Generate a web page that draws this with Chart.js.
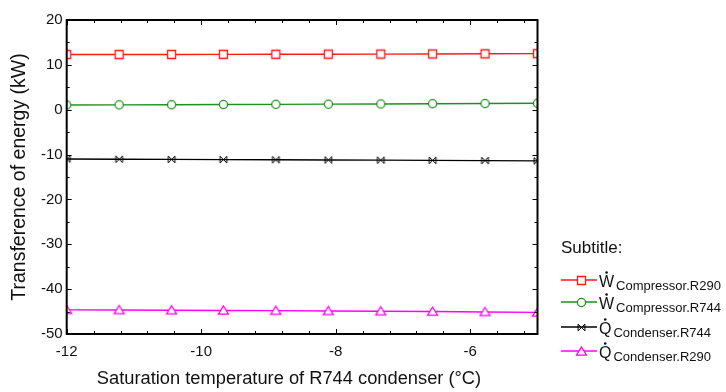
<!DOCTYPE html>
<html>
<head>
<meta charset="utf-8">
<script src="https://cdn.jsdelivr.net/npm/chart.js@4.4.1/dist/chart.umd.min.js"></script>
<style>
  html, body { margin: 0; padding: 0; background: #fff; }
  #wrap { width: 726px; height: 392px; position: relative; }
</style>
</head>
<body>
<div id="wrap"><canvas id="c"></canvas></div>
<script>
// Saturation temperature of the R744 condenser (°C)
const satTemp = [-12, -11.22, -10.44, -9.67, -8.89, -8.11, -7.33, -6.56, -5.78, -5];

// Energy transfer per component (kW)
const wCompressorR290 = [12.3, 12.3, 12.32, 12.34, 12.36, 12.38, 12.4, 12.43, 12.46, 12.5];
const wCompressorR744 = [1.05, 1.08, 1.12, 1.16, 1.2, 1.24, 1.28, 1.33, 1.38, 1.43];
const qCondenserR744 = [-11.0, -11.04, -11.08, -11.12, -11.16, -11.2, -11.24, -11.29, -11.34, -11.4];
const qCondenserR290 = [-44.62, -44.66, -44.7, -44.75, -44.8, -44.86, -44.92, -45.0, -45.08, -45.18];

// Axis ticks (minor + major) and the ones that carry a label
const xTickValues = [-12, -11.6, -11.2, -10.8, -10.4, -10, -9.6, -9.2, -8.8, -8.4, -8, -7.6, -7.2, -6.8, -6.4, -6, -5.6, -5.2];
const xTickLabels = [-12, -10, -8, -6];
const yTickValues = [-50, -45, -40, -35, -30, -25, -20, -15, -10, -5, 0, 5, 10, 15, 20];
const yTickLabels = [-50, -40, -30, -20, -10, 0, 10, 20];

// Legend entries
const legendTitle = 'Subtitle:';
const seriesSymbol = ['W', 'W', 'Q', 'Q'];
const seriesSubscript = ['Compressor.R290', 'Compressor.R744', 'Condenser.R744', 'Condenser.R290'];

const FONT = 'Arial, "Liberation Sans", sans-serif';
const INK = '#111';

function isIn(list, v) { return list.some(t => Math.abs(t - v) < 1e-6); }

// Marker glyphs rendered once into small canvases
function makeMarker(kind, color) {
  const s = 13, c = document.createElement('canvas');
  c.width = s; c.height = s;
  const g = c.getContext('2d');
  const m = s / 2;
  g.strokeStyle = color; g.fillStyle = '#fff'; g.lineWidth = 1.3;
  g.beginPath();
  if (kind === 'square') {
    g.rect(m - 4, m - 4, 8, 8);
    g.fill(); g.stroke();
  } else if (kind === 'circle') {
    g.arc(m, m, 4.1, 0, Math.PI * 2);
    g.fill(); g.stroke();
  } else if (kind === 'triangle') {
    g.moveTo(m, m - 4.5); g.lineTo(m + 5, m + 3.6); g.lineTo(m - 5, m + 3.6); g.closePath();
    g.fill(); g.stroke();
  } else if (kind === 'bowtie') {
    g.lineWidth = 1;
    const r = 3.4;
    g.moveTo(m - r, m - r); g.lineTo(m + r, m + r);
    g.moveTo(m - r, m + r); g.lineTo(m + r, m - r);
    g.moveTo(m - r, m - r); g.lineTo(m - r, m + r);
    g.moveTo(m + r, m - r); g.lineTo(m + r, m + r);
    g.stroke();
  }
  return c;
}

const series = [
  { values: wCompressorR290, color: '#ff1a1a', marker: makeMarker('square', '#ff1a1a') },
  { values: wCompressorR744, color: '#1f8f1f', marker: makeMarker('circle', '#1f8f1f') },
  { values: qCondenserR744, color: '#000000', marker: makeMarker('bowtie', '#000000') },
  { values: qCondenserR290, color: '#ff00ff', marker: makeMarker('triangle', '#ff00ff') }
];

const datasets = series.map((s, i) => ({
  label: seriesSymbol[i] + ' ' + seriesSubscript[i],
  data: satTemp.map((x, k) => ({ x: x, y: s.values[k] })),
  borderColor: s.color,
  backgroundColor: s.color,
  borderWidth: 1.4,
  pointStyle: s.marker,
  pointRadius: 5,
  pointHoverRadius: 5,
  clip: 0,
  tension: 0
}));

// Plot frame with inward tick marks on all four sides, plus x title and legend
const framePlugin = {
  id: 'frame',
  afterDatasetsDraw(chart) {
    const { ctx, chartArea: a, scales } = chart;
    ctx.save();
    ctx.strokeStyle = '#000';
    ctx.lineWidth = 1;
    ctx.beginPath();
    xTickValues.forEach(v => {
      const px = Math.round(scales.x.getPixelForValue(v)) + 0.5;
      const len = isIn(xTickLabels, v) ? 5 : 3;
      ctx.moveTo(px, a.bottom); ctx.lineTo(px, a.bottom - len);
      ctx.moveTo(px, a.top); ctx.lineTo(px, a.top + len);
    });
    yTickValues.forEach(v => {
      const py = Math.round(scales.y.getPixelForValue(v)) + 0.5;
      const len = isIn(yTickLabels, v) ? 5 : 3;
      ctx.moveTo(a.left, py); ctx.lineTo(a.left + len, py);
      ctx.moveTo(a.right, py); ctx.lineTo(a.right - len, py);
    });
    ctx.stroke();
    ctx.lineWidth = 2;
    ctx.strokeRect(a.left, a.top, a.right - a.left, a.bottom - a.top);
    ctx.restore();
  },
  afterDraw(chart) {
    const { ctx } = chart;
    ctx.save();
    ctx.fillStyle = INK;
    // x-axis title
    ctx.font = '18.3px ' + FONT;
    ctx.textAlign = 'center';
    ctx.textBaseline = 'middle';
    ctx.fillText('Saturation temperature of R744 condenser (°C)', 289, 379);

    // legend
    const lx = 561;
    ctx.textAlign = 'left';
    ctx.textBaseline = 'alphabetic';
    ctx.font = '17px ' + FONT;
    ctx.fillText(legendTitle, lx, 253);
    const rows = [280, 302, 327, 351];
    series.forEach((s, i) => {
      const y = rows[i];
      ctx.strokeStyle = s.color;
      ctx.lineWidth = 1.4;
      ctx.beginPath();
      ctx.moveTo(lx, y); ctx.lineTo(lx + 36, y);
      ctx.stroke();
      ctx.drawImage(s.marker, Math.round(lx + 20 - s.marker.width / 2), Math.round(y - s.marker.height / 2));
      ctx.fillStyle = INK;
      ctx.font = '16px ' + FONT;
      const sx = lx + 38;
      const base = y + 7;
      ctx.fillText(seriesSymbol[i], sx, base);
      const w = ctx.measureText(seriesSymbol[i]).width;
      // dot accent (time derivative)
      ctx.beginPath();
      ctx.arc(sx + w / 2, base - 14.5, 1.3, 0, Math.PI * 2);
      ctx.fill();
      ctx.font = '13px ' + FONT;
      ctx.fillText(seriesSubscript[i], sx + w + 2, base + 3);
    });
    ctx.restore();
  }
};

new Chart(document.getElementById('c'), {
  type: 'line',
  data: { datasets },
  options: {
    responsive: true,
    maintainAspectRatio: false,
    animation: false,
    events: [],
    layout: { padding: { left: 0, right: 188.5, top: 20, bottom: 0 } },
    plugins: { legend: { display: false }, tooltip: { enabled: false } },
    scales: {
      x: {
        type: 'linear',
        min: -12, max: -5,
        afterFit(scale) { scale.height = 58; },
        afterBuildTicks(scale) { scale.ticks = xTickValues.map(v => ({ value: v })); },
        grid: { display: false, drawTicks: false },
        border: { display: false },
        ticks: {
          autoSkip: false, maxRotation: 0, padding: 9,
          color: INK, font: { family: FONT, size: 15 },
          callback: v => isIn(xTickLabels, v) ? String(Math.round(v)) : ''
        }
      },
      y: {
        type: 'linear',
        min: -50, max: 20,
        afterFit(scale) { scale.width = 66.7; },
        afterBuildTicks(scale) { scale.ticks = yTickValues.map(v => ({ value: v })); },
        grid: { display: false, drawTicks: false },
        border: { display: false },
        ticks: {
          autoSkip: false, padding: 4,
          color: INK, font: { family: FONT, size: 15 },
          callback: v => isIn(yTickLabels, v) ? String(Math.round(v)) : ''
        },
        title: {
          display: true,
          text: 'Transference of energy (kW)',
          color: INK,
          font: { family: FONT, size: 19.5 },
          padding: { top: 8, bottom: 0 }
        }
      }
    }
  },
  plugins: [framePlugin]
});
</script>
</body>
</html>
